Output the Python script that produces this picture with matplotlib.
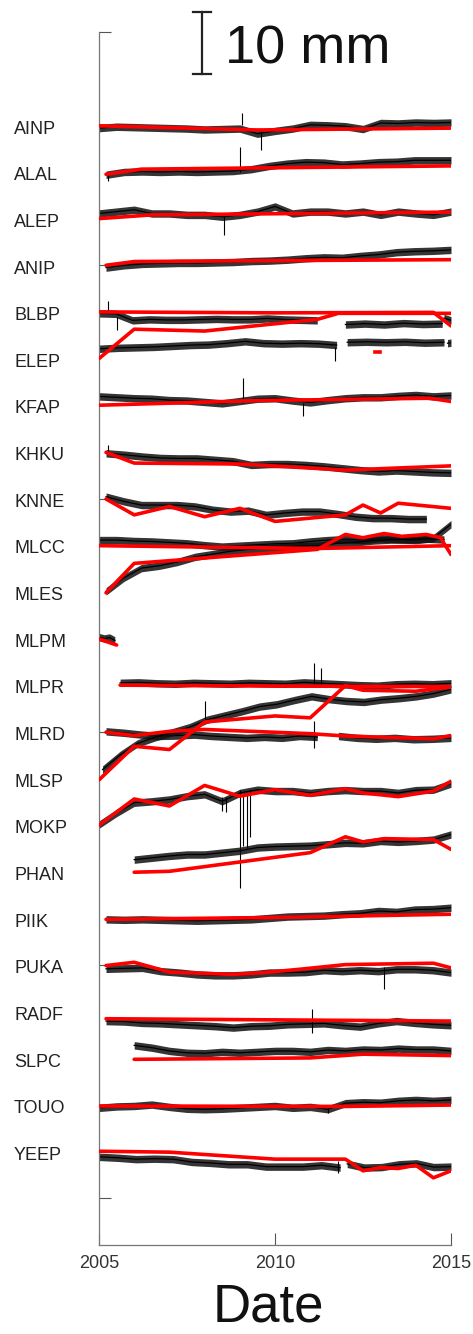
import numpy as np
import matplotlib.pyplot as plt
from matplotlib.lines import Line2D
from matplotlib.transforms import blended_transform_factory

plt.rcParams['font.family'] = ['Liberation Sans', 'DejaVu Sans']

# station names top to bottom, and the vertical offset (mm) each one is drawn at
stations = ["AINP", "ALAL", "ALEP", "ANIP", "BLBP", "ELEP", "KFAP", "KHKU",
            "KNNE", "MLCC", "MLES", "MLPM", "MLPR", "MLRD", "MLSP", "MOKP",
            "PHAN", "PIIK", "PUKA", "RADF", "SLPC", "TOUO", "YEEP"]
offsets = [230, 220, 210, 200, 190, 180, 170, 160, 150, 140, 130, 120,
           110, 100, 90, 80, 70, 60, 50, 40, 30, 20, 10]

# GPS displacement (mm), as segments (start year, end year, evenly spaced values)
AINP_gps = [(2005.0, 2015.0, [-0.6, -0.3, -0.4, -0.5, -0.6, -0.7, -0.9, -0.8, -0.7, -1.8, -1.2,
                              -0.7, 0.1, 0.0, -0.2, -0.8, 0.5, 0.4, 0.6, 0.5, 0.6])]
ALAL_gps = [(2005.2, 2015.0, [-0.6, 0.0, 0.1, 0.0, 0.1, 0.0, 0.1, 0.2, 0.6, 1.3,
                              1.8, 2.1, 2.0, 1.6, 1.8, 2.1, 2.2, 2.5, 2.5, 2.5])]
ALEP_gps = [(2005.0, 2015.0, [1.1, 1.5, 1.9, 1.1, 1.1, 0.8, 0.8, 0.4, 0.8, 1.5, 2.6,
                              1.1, 1.5, 1.5, 1.1, 1.5, 0.8, 1.5, 1.1, 0.8, 1.5])]
ANIP_gps = [(2005.2, 2015.0, [-0.5, 0.0, 0.3, 0.4, 0.5, 0.5, 0.6, 0.7, 0.9, 1.0,
                              1.2, 1.5, 1.7, 1.6, 2.0, 2.3, 2.8, 3.0, 3.1, 3.3])]
BLBP_gps = [(2005.0, 2011.2, [-0.3, -0.4, -1.8, -1.6, -1.7, -1.7, -1.6, -1.5, -1.6, -1.6,
                              -1.4, -1.6, -1.7, -1.8]),
            (2012.0, 2014.75, [-2.7, -2.5, -2.7, -2.4, -2.6, -2.5]),
            (2014.8, 2015.0, [-1.3, -1.8])]
ELEP_gps = [(2005.0, 2011.75, [2.1, 2.3, 2.4, 2.5, 2.7, 2.9, 3.0, 3.3, 3.7, 3.3, 3.2,
                               3.3, 3.2, 2.9]),
            (2012.05, 2014.8, [3.5, 3.6, 3.5, 3.6, 3.4, 3.5]),
            (2014.9, 2015.0, [3.3, 3.4])]
KFAP_gps = [(2005.0, 2015.0, [1.9, 1.7, 1.5, 1.4, 1.1, 1.0, 0.7, 0.4, 0.9, 1.4, 1.5,
                              1.0, 0.6, 1.1, 1.5, 1.7, 1.7, 2.0, 2.2, 1.9, 2.1])]
KHKU_gps = [(2005.2, 2015.0, [-0.3, -0.6, -1.0, -1.3, -1.4, -1.4, -1.7, -2.0, -2.8, -2.6,
                              -2.6, -2.8, -3.1, -3.5, -3.9, -4.2, -4.0, -4.2, -4.4, -4.5])]
KNNE_gps = [(2005.2, 2014.3, [0.4, -0.6, -1.4, -1.4, -1.4, -1.7, -2.4, -2.8, -2.6, -3.5,
                              -3.1, -2.8, -2.8, -3.3, -3.9, -4.2, -4.2, -4.4, -4.4])]
MLCC_gps = [(2005.0, 2015.0, [1.1, 1.1, 0.9, 0.8, 0.6, 0.4, 0.0, -0.3, -0.1, 0.1, 0.3,
                              0.4, 0.8, 1.1, 1.3, 1.1, 1.5, 1.3, 1.1, 1.5, 4.5])]
MLES_gps = [(2005.2, 2014.8, [0.1, 3.0, 5.1, 5.6, 6.4, 7.5, 8.1, 8.7, 9.1, 9.4,
                              9.6, 9.8, 9.9, 10.4, 10.6, 11.0, 11.2, 11.2, 11.4, 11.2])]
MLPM_gps = [(2005.0, 2005.45, [0.3, 0.0, 0.2, -0.4])]
MLPR_gps = [(2005.6, 2015.0, [0.5, 0.6, 0.4, 0.3, 0.5, 0.4, 0.3, 0.5, 0.4, 0.3,
                              0.6, 0.4, 0.2, 0.0, -0.1, 0.2, 0.3, 0.2, 0.4])]
MLRD_gps = [(2005.2, 2011.2, [0.1, -0.2, -0.6, -0.9, -0.8, -0.6, -0.9, -1.1, -1.3, -1.1,
                              -1.3, -0.9, -1.1]),
            (2011.8, 2015.0, [-0.9, -1.3, -1.5, -1.3, -1.6, -1.5, -1.3])]
MLSP_gps = [(2005.1, 2015.0, [1.9, 5.0, 7.5, 8.8, 9.9, 11.0, 12.6, 13.5, 14.4, 15.4, 15.9,
                              16.8, 17.6, 17.0, 16.6, 16.4, 16.9, 17.2, 17.6, 18.2, 19.1])]
MOKP_gps = [(2005.0, 2015.0, [0.1, 2.6, 4.8, 5.1, 5.5, 6.2, 6.6, 5.1, 6.9, 7.6, 7.3,
                              7.3, 6.9, 7.3, 7.5, 7.3, 7.3, 6.9, 7.5, 7.6, 8.9])]
PHAN_gps = [(2006.0, 2015.0, [2.6, 3.0, 3.4, 3.7, 3.7, 4.1, 4.5, 5.2, 5.4, 5.5,
                              5.6, 5.9, 6.2, 6.1, 6.6, 6.4, 6.6, 6.9, 8.0])]
PIIK_gps = [(2005.2, 2015.0, [-0.2, -0.3, -0.2, -0.3, -0.4, -0.5, -0.4, -0.3, -0.2, 0.1,
                              0.4, 0.5, 0.6, 0.9, 1.1, 1.6, 1.4, 1.9, 2.0, 2.3])]
PUKA_gps = [(2005.2, 2015.0, [-0.8, -0.7, -0.6, -1.3, -1.6, -2.0, -2.2, -2.2, -2.0, -1.6,
                              -1.6, -1.5, -1.1, -1.3, -1.1, -1.3, -0.9, -0.9, -1.1, -1.6])]
RADF_gps = [(2005.2, 2015.0, [-2.0, -2.1, -2.4, -2.5, -2.7, -2.9, -3.1, -3.4, -3.1, -3.0,
                              -2.7, -2.6, -2.5, -2.9, -3.2, -2.5, -2.0, -2.4, -2.7, -2.9])]
SLPC_gps = [(2006.0, 2015.0, [2.8, 2.3, 1.6, 1.2, 1.1, 1.4, 1.2, 1.4, 1.6, 1.6,
                              1.4, 1.8, 1.6, 1.9, 1.8, 2.1, 1.9, 1.9, 1.6])]
TOUO_gps = [(2005.0, 2015.0, [-0.6, -0.3, -0.2, 0.1, -0.4, -0.8, -0.9, -0.8, -0.6, -0.4, -0.2,
                              -0.6, -0.4, -0.9, 0.4, 0.6, 0.5, 0.9, 1.1, 0.9, 1.1])]
YEEP_gps = [(2005.0, 2011.85, [-1.1, -1.3, -1.6, -1.5, -1.6, -2.2, -2.4, -2.7, -2.7, -3.2,
                               -3.2, -3.2, -2.9, -3.4]),
            (2012.05, 2015.0, [-2.6, -3.4, -3.3, -2.7, -2.5, -3.3, -3.2])]

# model fit (red), knot years and values in mm
AINP_fit_t = [2005.0, 2009.5, 2015.0]
AINP_fit = [-0.1, -1.0, -0.6]
ALAL_fit_t = [2005.2, 2006.2, 2010.0, 2015.0]
ALAL_fit = [-0.5, 0.6, 0.9, 1.3]
ALEP_fit_t = [2005.0, 2006.5, 2015.0]
ALEP_fit = [0.0, 0.8, 1.4]
ANIP_fit_t = [2005.2, 2006.0, 2010.0, 2015.0]
ANIP_fit = [0.0, 0.8, 1.0, 1.2]
BLBP_fit_t = [2005.0, 2010.0, 2014.5, 2015.0]
BLBP_fit = [0.0, -0.2, -0.1, -3.0]
ELEP_fit_t = [2005.0, 2006.0, 2008.0, 2011.2, 2011.8, 2015.0]
ELEP_fit = [0.0, 6.3, 5.9, 8.4, 9.7, 9.7]
KFAP_fit_t = [2005.0, 2009.5, 2014.4, 2015.0]
KFAP_fit = [0.0, 1.0, 1.5, 0.8]
KHKU_fit_t = [2005.2, 2006.0, 2009.0, 2012.0, 2013.0, 2015.0]
KHKU_fit = [-0.1, -2.4, -2.6, -3.9, -3.6, -3.0]
KNNE_fit_t = [2005.2, 2006.0, 2007.0, 2008.0, 2009.0, 2010.0, 2012.0, 2012.5, 2013.0, 2013.5, 2015.0]
KNNE_fit = [-0.1, -3.5, -1.7, -3.9, -2.1, -4.9, -3.5, -1.4, -3.1, -1.0, -2.1]
MLCC_fit_t = [2005.0, 2008.0, 2011.2, 2015.0]
MLCC_fit = [-0.1, -0.4, -0.7, -0.1]
MLES_fit_t = [2005.2, 2006.0, 2011.2, 2012.0, 2012.5, 2013.1, 2013.6, 2014.3, 2014.7, 2015.0]
MLES_fit = [-0.2, 6.1, 9.1, 12.3, 11.6, 12.5, 11.9, 12.3, 11.6, 8.0]
MLPM_fit_t = [2005.0, 2005.5]
MLPM_fit = [-0.1, -1.4]
MLPR_fit_t = [2005.6, 2010.0, 2015.0]
MLPR_fit = [0.0, -0.2, -0.3]
MLRD_fit_t = [2005.2, 2006.0, 2007.0, 2008.0, 2011.0, 2012.0, 2014.5, 2015.0]
MLRD_fit = [-0.1, -0.8, 0.1, 0.5, -0.4, -0.9, -1.5, -0.8]
MLSP_fit_t = [2005.0, 2006.0, 2007.0, 2008.0, 2010.0, 2011.0, 2012.0, 2012.5, 2014.0, 2015.0]
MLSP_fit = [-0.3, 6.9, 6.2, 12.1, 13.4, 13.0, 19.9, 18.9, 18.7, 19.6]
MOKP_fit_t = [2005.0, 2006.0, 2007.0, 2008.0, 2009.0, 2010.0, 2011.0, 2012.0, 2012.5, 2013.5, 2014.5, 2015.0]
MOKP_fit = [0.0, 5.6, 4.1, 8.5, 6.2, 7.6, 6.4, 7.8, 6.9, 6.1, 7.3, 9.4]
PHAN_fit_t = [2006.0, 2007.0, 2011.0, 2012.0, 2012.5, 2013.1, 2014.5, 2015.0]
PHAN_fit = [-0.1, 0.1, 4.1, 7.5, 6.4, 7.1, 6.9, 4.8]
PIIK_fit_t = [2005.2, 2010.0, 2015.0]
PIIK_fit = [-0.2, 0.2, 0.9]
PUKA_fit_t = [2005.2, 2006.0, 2007.0, 2008.8, 2009.7, 2010.7, 2012.0, 2014.5, 2015.0]
PUKA_fit = [-0.1, 0.6, -1.5, -2.0, -1.6, -0.9, 0.1, 0.4, -0.6]
RADF_fit_t = [2005.2, 2015.0]
RADF_fit = [-1.5, -2.0]
SLPC_fit_t = [2006.0, 2011.0, 2012.5, 2015.0]
SLPC_fit = [-0.2, 0.1, 0.9, 0.6]
TOUO_fit_t = [2005.0, 2012.0, 2015.0]
TOUO_fit = [-0.2, -0.3, 0.0]
YEEP_fit_t = [2005.0, 2007.0, 2010.0, 2012.0, 2012.5, 2013.0, 2013.5, 2014.0, 2014.5, 2015.0]
YEEP_fit = [0.1, -0.1, -1.6, -1.6, -4.1, -3.4, -3.6, -2.9, -5.6, -4.1]

# single-day outliers (year, low mm, high mm)
AINP_spikes = [(2009.05, 0.0, 2.6), (2009.6, -5.3, -1.0)]
ALAL_spikes = [(2009.0, 0.0, 5.4), (2005.25, -2.0, 0.0)]
ALEP_spikes = [(2008.55, -3.5, 0.5)]
BLBP_spikes = [(2005.5, -3.8, -1.0), (2005.25, 0.0, 2.3)]
ELEP_spikes = [(2011.7, -0.6, 2.5)]
KFAP_spikes = [(2009.1, 0.5, 5.8), (2010.8, -2.4, 0.5)]
KHKU_spikes = [(2005.25, -0.5, 1.5)]
MLPR_spikes = [(2011.1, 0.0, 4.8), (2011.3, 0.0, 3.6)]
MLRD_spikes = [(2011.1, -3.5, 2.3)]
MLSP_spikes = [(2008.0, 12.0, 16.5)]
MOKP_spikes = [(2008.5, 3.0, 6.0), (2008.6, 2.8, 6.0), (2009.0, -13.5, 7.5),
               (2009.1, -4.5, 6.5), (2009.2, -5.0, 6.5), (2009.3, -2.5, 7.5)]
PUKA_spikes = [(2013.1, -5.2, -0.5)]
RADF_spikes = [(2011.05, -4.5, 0.5)]
TOUO_spikes = [(2011.5, -1.6, 0.0)]
YEEP_spikes = [(2011.8, -4.5, -2.0)]

gps = [AINP_gps, ALAL_gps, ALEP_gps, ANIP_gps, BLBP_gps, ELEP_gps, KFAP_gps, KHKU_gps,
       KNNE_gps, MLCC_gps, MLES_gps, MLPM_gps, MLPR_gps, MLRD_gps, MLSP_gps, MOKP_gps,
       PHAN_gps, PIIK_gps, PUKA_gps, RADF_gps, SLPC_gps, TOUO_gps, YEEP_gps]
fit_t = [AINP_fit_t, ALAL_fit_t, ALEP_fit_t, ANIP_fit_t, BLBP_fit_t, ELEP_fit_t, KFAP_fit_t,
         KHKU_fit_t, KNNE_fit_t, MLCC_fit_t, MLES_fit_t, MLPM_fit_t, MLPR_fit_t, MLRD_fit_t,
         MLSP_fit_t, MOKP_fit_t, PHAN_fit_t, PIIK_fit_t, PUKA_fit_t, RADF_fit_t, SLPC_fit_t,
         TOUO_fit_t, YEEP_fit_t]
fit = [AINP_fit, ALAL_fit, ALEP_fit, ANIP_fit, BLBP_fit, ELEP_fit, KFAP_fit, KHKU_fit,
       KNNE_fit, MLCC_fit, MLES_fit, MLPM_fit, MLPR_fit, MLRD_fit, MLSP_fit, MOKP_fit,
       PHAN_fit, PIIK_fit, PUKA_fit, RADF_fit, SLPC_fit, TOUO_fit, YEEP_fit]
spikes = {"AINP": AINP_spikes, "ALAL": ALAL_spikes, "ALEP": ALEP_spikes, "BLBP": BLBP_spikes,
          "ELEP": ELEP_spikes, "KFAP": KFAP_spikes, "KHKU": KHKU_spikes, "MLPR": MLPR_spikes,
          "MLRD": MLRD_spikes, "MLSP": MLSP_spikes, "MOKP": MOKP_spikes, "PUKA": PUKA_spikes,
          "RADF": RADF_spikes, "TOUO": TOUO_spikes, "YEEP": YEEP_spikes}

noise = 0.8  # half width of the daily scatter band, mm

fig = plt.figure(figsize=(4.73, 13.34), dpi=100)
W, H = 473, 1334
ax = fig.add_axes([99 / W, 1 - 1245 / H, 352 / W, (1245 - 32) / H])

for i, name in enumerate(stations):
    off = offsets[i]
    for t0, t1, vals in gps[i]:
        t = np.linspace(t0, t1, len(vals))
        v = np.array(vals) + off
        ax.fill_between(t, v - noise, v + noise, color='#111111', lw=0, alpha=0.85, zorder=2)
        ax.plot(t, v, color='black', lw=0.9, zorder=2)
    for ts, lo, hi in spikes.get(name, []):
        ax.vlines(ts, off + lo, off + hi, color='black', lw=0.8, zorder=2)
    ax.plot(fit_t[i], np.array(fit[i]) + off, color='#ff0000', lw=2.6, zorder=3,
            solid_capstyle='round', solid_joinstyle='round')

# short stray fit piece at ELEP
ax.plot([2012.85, 2012.97], [181.5, 181.5], color='#ff0000', lw=2.6, zorder=3)

trans = blended_transform_factory(ax.transAxes, ax.transData)
for name, off in zip(stations, offsets):
    ax.text((14 - 99) / 352, off - 0.8, name, transform=trans, ha='left', va='center',
            fontsize=13, color='#222222')

ax.set_xlim(2005, 2015)
ax.set_ylim(-10, 250)
ax.set_xticks([2005, 2010, 2015])
ax.set_yticks([0, 50, 100, 150, 200, 250])
ax.set_yticklabels([])
ax.tick_params(axis='both', direction='in', length=8.5, width=0.8, color='#555555')
ax.tick_params(axis='x', labelsize=13, labelcolor='#333333', pad=7)
for s in ['top', 'right']:
    ax.spines[s].set_visible(False)
for s in ['left', 'bottom']:
    ax.spines[s].set_color('#777777')
    ax.spines[s].set_linewidth(0.9)

# scale bar
xb = 202 / W
fig.add_artist(Line2D([xb, xb], [1 - 12 / H, 1 - 74 / H], color='#222222', lw=1.6))
fig.add_artist(Line2D([193 / W, 211 / W], [1 - 12 / H, 1 - 12 / H], color='#222222', lw=1.6))
fig.add_artist(Line2D([193 / W, 211 / W], [1 - 74 / H, 1 - 74 / H], color='#222222', lw=1.6))
fig.text(225 / W, 1 - 63 / H, '10 mm', fontsize=39, ha='left', va='baseline', color='#111111')

fig.text(268 / W, 1 - 1308 / H, 'Date', fontsize=38, ha='center', va='center', color='#111111')

fig.savefig('out.png', dpi=100)
